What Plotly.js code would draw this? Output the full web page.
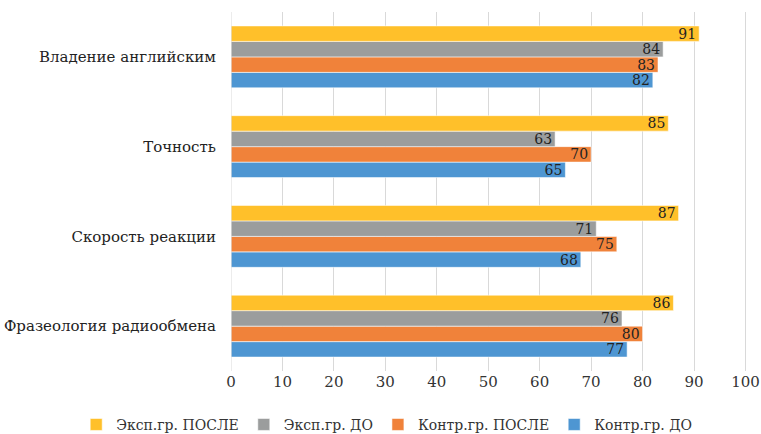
<!DOCTYPE html>
<html><head><meta charset="utf-8">
<script src="https://cdn.plot.ly/plotly-3.0.1.min.js"></script>
<style>html,body{margin:0;padding:0;background:#fff}#chart{width:761px;height:434px}</style>
</head><body><div id="chart"></div>
<script>
const categories = ["Фразеология радиообмена", "Скорость реакции", "Точность", "Владение английским"];
const seriesNames = ["Контр.гр. ДО", "Контр.гр. ПОСЛЕ", "Эксп.гр. ДО", "Эксп.гр. ПОСЛЕ"];
const kontrDo = [77, 68, 65, 82];
const kontrPosle = [80, 75, 70, 83];
const expDo = [76, 71, 63, 84];
const expPosle = [86, 87, 85, 91];
const xTicks = [0, 10, 20, 30, 40, 50, 60, 70, 80, 90, 100];

const colors = ["#4E96D2", "#F0823A", "#9B9D9D", "#FFC02A"];
const values = [kontrDo, kontrPosle, expDo, expPosle];
const FONT = "DejaVu Serif, Liberation Serif, serif";

const traces = values.map((v, i) => ({
  type: "bar",
  orientation: "h",
  name: seriesNames[i],
  y: categories,
  x: v,
  text: v.map(String),
  textposition: "inside",
  insidetextanchor: "end",
  textangle: 0,
  constraintext: "none",
  textfont: {family: FONT, size: 14, color: "#222"},
  marker: {color: colors[i], line: {color: "rgba(255,255,255,0.7)", width: 0.8}},
  hoverinfo: "none"
}));

const layout = {
  width: 761, height: 434,
  margin: {l: 231, r: 14, t: 12, b: 63, autoexpand: false},
  paper_bgcolor: "#fff", plot_bgcolor: "#fff",
  barmode: "group", bargap: 0.31, bargroupgap: 0,
  font: {family: FONT, size: 15, color: "#333"},
  showlegend: true,
  legend: {orientation: "h", traceorder: "reversed",
           x: -0.3, xanchor: "left", y: -0.15, yanchor: "middle",
           font: {family: FONT, size: 14, color: "#333"}, itemwidth: 30, tracegroupgap: 0},
  xaxis: {range: [0, 100.3], tickvals: xTicks, ticktext: xTicks.map(String), showgrid: true, gridcolor: "#D9D9D9",
          gridwidth: 1, zeroline: false, showline: false, ticks: "", automargin: false,
          tickfont: {family: FONT, size: 15, color: "#333"}, fixedrange: true},
  yaxis: {type: "category", categoryarray: categories, showgrid: false, zeroline: false, showline: false, ticks: "",
          automargin: false, ticklabelstandoff: 14, tickfont: {family: FONT, size: 15, color: "#222"}, fixedrange: true},
  shapes: [{type: "line", xref: "x", yref: "paper", x0: 0, x1: 0, y0: 0, y1: 1, line: {color: "#D9D9D9", width: 1}}]
};

Plotly.newPlot("chart", traces, layout, {displayModeBar: false, staticPlot: true});
</script></body></html>
